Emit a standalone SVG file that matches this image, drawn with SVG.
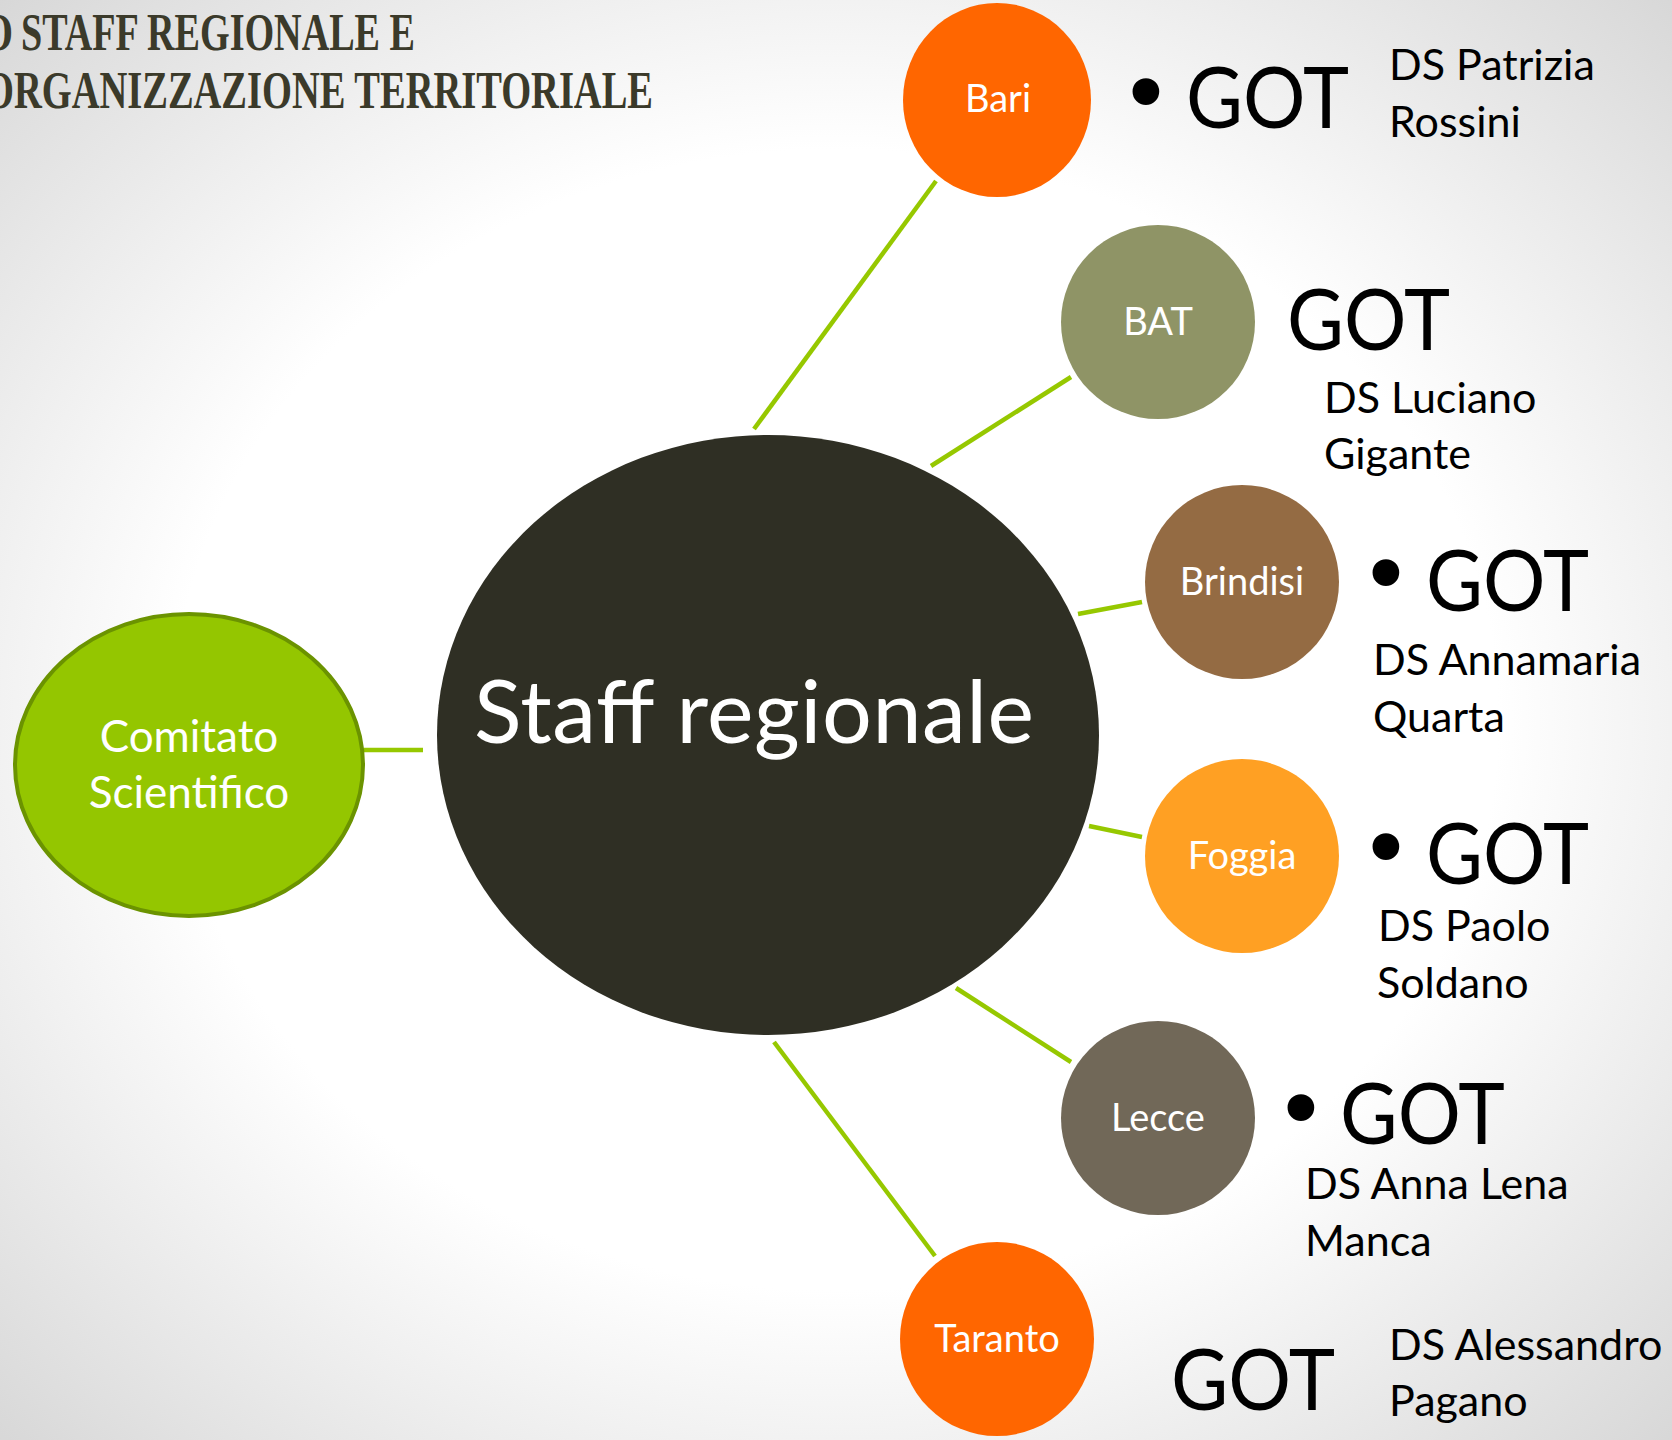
<svg xmlns="http://www.w3.org/2000/svg" width="1672" height="1440" viewBox="0 0 1672 1440">
<defs>
<radialGradient id="bg" cx="50%" cy="50%" r="72%">
<stop offset="0.55" stop-color="#ffffff"/>
<stop offset="1" stop-color="#d6d6d6"/>
</radialGradient>
<style>
.title{font-family:"Liberation Serif",serif;font-weight:bold;font-size:53px;fill:#3b3a2a}
.lbl{font-family:Lato,"Liberation Sans",sans-serif;fill:#ffffff;text-anchor:middle}
.node{font-size:38px}
.got{font-family:Lato,"Liberation Sans",sans-serif;font-size:86px;fill:#000}
.bul{font-family:"DejaVu Sans",sans-serif;font-size:92px;fill:#000;text-anchor:middle}
.ds{font-family:Lato,"Liberation Sans",sans-serif;font-size:43px;fill:#000}
.conn line{stroke:#96c800;stroke-width:4.5;stroke-linecap:butt}
</style>
</defs>
<rect width="1672" height="1440" fill="url(#bg)"/>
<g id="title">
<text class="title" x="-18" y="50" textLength="31" lengthAdjust="spacingAndGlyphs">O</text>
<text class="title" x="21" y="50" textLength="394" lengthAdjust="spacingAndGlyphs">STAFF REGIONALE E</text>
<text class="title" x="-16" y="108" textLength="669" lengthAdjust="spacingAndGlyphs">ORGANIZZAZIONE TERRITORIALE</text>
</g>
<g id="connectors" class="conn">
<line x1="754" y1="429" x2="936" y2="181"/>
<line x1="931" y1="466" x2="1071" y2="377"/>
<line x1="1078" y1="614" x2="1142" y2="602"/>
<line x1="1089" y1="826" x2="1142" y2="837"/>
<line x1="956" y1="988" x2="1071" y2="1062"/>
<line x1="774" y1="1042" x2="935" y2="1256"/>
<line x1="364" y1="750" x2="423" y2="750"/>
</g>
<g id="staff">
<ellipse cx="768" cy="735" rx="331" ry="300" fill="#2f2f24"/>
<text class="lbl" x="754" y="743" font-size="88" textLength="560">Staff regionale</text>
</g>
<g id="comitato">
<ellipse cx="189" cy="765" rx="174" ry="151" fill="#94c600" stroke="#6b9300" stroke-width="4"/>
<text class="lbl" x="189" y="752" font-size="44">Comitato</text>
<text class="lbl" x="189" y="808" font-size="44">Scientifico</text>
</g>
<g id="bari">
<ellipse cx="997" cy="100" rx="94" ry="97" fill="#ff6600"/>
<text class="lbl node" x="998" y="112">Bari</text>
</g>
<g id="bari-got">
<text class="bul" x="1146" y="126">•</text>
<text class="got" x="1186" y="128" textLength="163" lengthAdjust="spacingAndGlyphs">GOT</text>
<text class="ds" x="1389" y="80">DS Patrizia</text>
<text class="ds" x="1389" y="137">Rossini</text>
</g>
<g id="bat">
<ellipse cx="1158" cy="322" rx="97" ry="97" fill="#8f9466"/>
<text class="lbl node" x="1158" y="335">BAT</text>
</g>
<g id="bat-got">
<text class="got" x="1287" y="350" textLength="163" lengthAdjust="spacingAndGlyphs">GOT</text>
<text class="ds" x="1324" y="413">DS Luciano</text>
<text class="ds" x="1324" y="469">Gigante</text>
</g>
<g id="brindisi">
<ellipse cx="1242" cy="582" rx="97" ry="97" fill="#946b43"/>
<text class="lbl node" x="1242" y="595">Brindisi</text>
</g>
<g id="brindisi-got">
<text class="bul" x="1386" y="607">•</text>
<text class="got" x="1426" y="611" textLength="163" lengthAdjust="spacingAndGlyphs">GOT</text>
<text class="ds" x="1373" y="675">DS Annamaria</text>
<text class="ds" x="1373" y="732">Quarta</text>
</g>
<g id="foggia">
<ellipse cx="1242" cy="856" rx="97" ry="97" fill="#ffa023"/>
<text class="lbl node" x="1242" y="869">Foggia</text>
</g>
<g id="foggia-got">
<text class="bul" x="1386" y="881">•</text>
<text class="got" x="1426" y="884" textLength="163" lengthAdjust="spacingAndGlyphs">GOT</text>
<text class="ds" x="1378" y="941">DS Paolo</text>
<text class="ds" x="1377" y="998">Soldano</text>
</g>
<g id="lecce">
<ellipse cx="1158" cy="1118" rx="97" ry="97" fill="#716858"/>
<text class="lbl node" x="1158" y="1131">Lecce</text>
</g>
<g id="lecce-got">
<text class="bul" x="1301" y="1142">•</text>
<text class="got" x="1340" y="1144" textLength="165" lengthAdjust="spacingAndGlyphs">GOT</text>
<text class="ds" x="1305" y="1199">DS Anna Lena</text>
<text class="ds" x="1305" y="1256">Manca</text>
</g>
<g id="taranto">
<ellipse cx="997" cy="1339" rx="97" ry="97" fill="#ff6600"/>
<text class="lbl node" x="997" y="1352">Taranto</text>
</g>
<g id="taranto-got">
<text class="got" x="1171" y="1410" textLength="164" lengthAdjust="spacingAndGlyphs">GOT</text>
<text class="ds" x="1389" y="1360">DS Alessandro</text>
<text class="ds" x="1389" y="1416">Pagano</text>
</g>
</svg>
